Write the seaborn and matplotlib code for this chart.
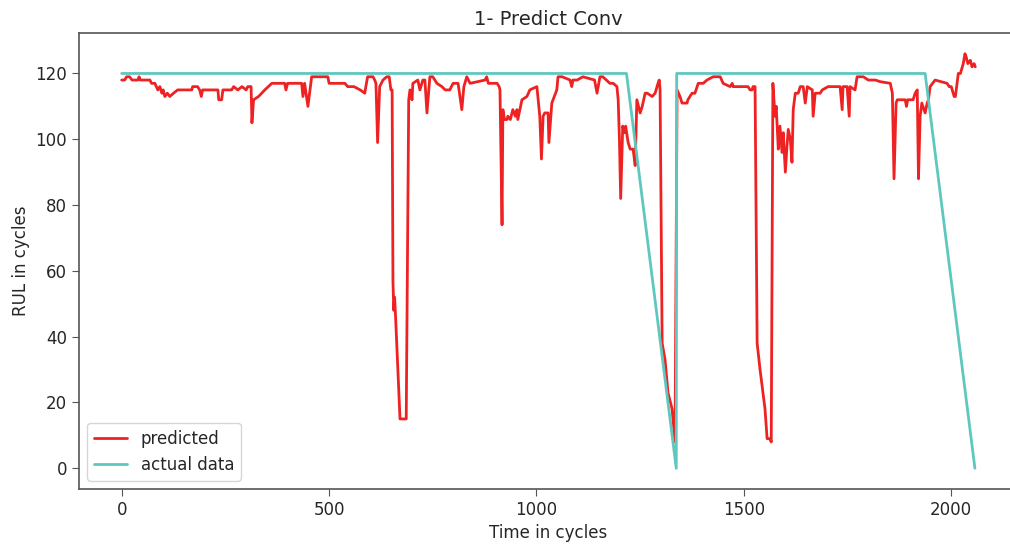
import matplotlib
matplotlib.use("Agg")
import matplotlib.pyplot as plt
import seaborn as sns
import pandas as pd

# predicted RUL as (cycle, value) vertices
pred_x = [0, 7, 12, 19, 25, 39, 42, 45, 68, 72, 80, 87, 92, 97, 100, 104, 110, 116, 125, 135,
          169, 171, 183, 188, 192, 195, 232, 234, 241, 244, 265, 270, 280, 290, 300, 304, 312, 314, 318, 330,
          345, 362, 393, 396, 400, 434, 437, 441, 449, 458, 473, 497, 500, 538, 545, 560, 575, 586, 590, 593,
          606, 610, 613, 617, 621, 622, 630, 639, 645, 649, 652, 654, 656, 658, 660, 671, 675, 686, 692, 695,
          700, 702, 714, 719, 726, 731, 736, 743, 750, 760, 772, 780, 791, 799, 811, 820, 825, 832, 840, 876,
          880, 884, 905, 910, 912, 917, 919, 923, 929, 931, 937, 943, 949, 953, 955, 965, 977, 984, 1001, 1008,
          1012, 1016, 1020, 1028, 1030, 1037, 1049, 1052, 1062, 1081, 1085, 1088, 1098, 1112, 1140, 1146, 1153, 1160, 1177, 1185,
          1194, 1197, 1200, 1203, 1208, 1212, 1215, 1221, 1226, 1233, 1238, 1242, 1250, 1255, 1262, 1267, 1279, 1286, 1293, 1296,
          1298, 1303, 1310, 1317, 1327, 1334, 1339, 1346, 1351, 1363, 1365, 1375, 1382, 1390, 1402, 1411, 1426, 1443, 1450, 1467,
          1472, 1474, 1491, 1510, 1515, 1520, 1522, 1527, 1532, 1539, 1546, 1551, 1556, 1563, 1566, 1570, 1575, 1578, 1583, 1587,
          1592, 1595, 1600, 1604, 1607, 1612, 1616, 1619, 1624, 1631, 1636, 1643, 1648, 1653, 1665, 1667, 1672, 1684, 1689, 1703,
          1732, 1737, 1739, 1749, 1754, 1756, 1768, 1773, 1788, 1800, 1817, 1829, 1853, 1858, 1862, 1867, 1870, 1889, 1892, 1895,
          1908, 1913, 1918, 1921, 1925, 1929, 1937, 1942, 1945, 1949, 1961, 1990, 1995, 2000, 2007, 2010, 2015, 2017, 2022, 2029,
          2033, 2036, 2040, 2046, 2050, 2055, 2058]
pred_y = [118, 118, 119, 119, 118, 118, 119, 118, 118, 117, 117, 115, 116, 114, 115, 113, 114, 113, 114, 115,
          115, 116, 116, 115, 113, 115, 115, 112, 112, 115, 115, 116, 115, 116, 115, 116, 116, 105, 112, 113,
          115, 117, 117, 115, 117, 117, 113, 117, 110, 119, 119, 119, 117, 117, 116, 116, 115, 114, 117, 119,
          119, 118, 117, 99, 113, 116, 118, 119, 119, 115, 115, 57, 48, 52, 47, 15, 15, 15, 112, 115,
          112, 117, 118, 115, 118, 118, 108, 119, 119, 117, 116, 115, 115, 117, 117, 109, 116, 119, 117, 118,
          119, 117, 117, 116, 115, 74, 109, 106, 106, 107, 106, 109, 107, 109, 106, 112, 113, 115, 116, 107,
          94, 107, 108, 108, 99, 111, 115, 119, 119, 118, 116, 118, 118, 119, 118, 114, 119, 119, 117, 117,
          116, 112, 100, 82, 104, 102, 104, 99, 97, 97, 92, 112, 108, 110, 114, 114, 113, 114, 117, 118,
          115, 38, 33, 23, 18, 8, 115, 113, 111, 111, 112, 114, 114, 117, 117, 118, 119, 119, 117, 116,
          117, 116, 116, 116, 115, 115, 116, 116, 38, 30, 23, 18, 9, 9, 8, 117, 107, 110, 97, 104,
          96, 102, 90, 98, 103, 100, 93, 109, 114, 114, 116, 116, 111, 116, 115, 107, 114, 114, 115, 116,
          116, 109, 116, 116, 107, 116, 115, 119, 119, 118, 118, 117.5, 117, 114, 88, 111, 112, 112, 110, 112,
          112, 114, 115, 88, 107, 111, 108, 111, 112, 116, 118, 117, 116, 116, 113, 113, 118, 120, 120, 123,
          126, 125, 123, 124, 122, 123, 122]

# true RUL (clipped at 120)
actual_x = [0, 1217, 1337, 1338, 1937, 2057]
actual_y = [120, 120, 0, 120, 120, 0]

pred = pd.DataFrame({"cycle": pred_x, "rul": pred_y})
actual = pd.DataFrame({"cycle": actual_x, "rul": actual_y})

sns.set_style("ticks")
plt.rcParams["font.family"] = ["DejaVu Sans"]

fig = plt.figure(figsize=(10.1, 5.44), dpi=100)
ax = fig.add_axes([79 / 1010, 55 / 544, 939 / 1010, 456 / 544])

sns.lineplot(data=pred, x="cycle", y="rul", sort=False, estimator=None,
             color="#ee2222", linewidth=2, label="predicted", ax=ax)
sns.lineplot(data=actual, x="cycle", y="rul", sort=False, estimator=None,
             color="#5ec8bf", linewidth=2, label="actual data", ax=ax)

ax.set_title("1- Predict Conv", fontsize=14)
ax.set_xlabel("Time in cycles", fontsize=12)
ax.set_ylabel("RUL in cycles", fontsize=12)
ax.tick_params(labelsize=12, color="#555555", length=5)
ax.set_xticks([0, 500, 1000, 1500, 2000])
ax.set_yticks([0, 20, 40, 60, 80, 100, 120])
for s in ax.spines.values():
    s.set_color("#555555")
    s.set_linewidth(1.2)
ax.legend(loc="lower left", fontsize=12, frameon=True, fancybox=True)

fig.savefig("out.png", dpi=100)
